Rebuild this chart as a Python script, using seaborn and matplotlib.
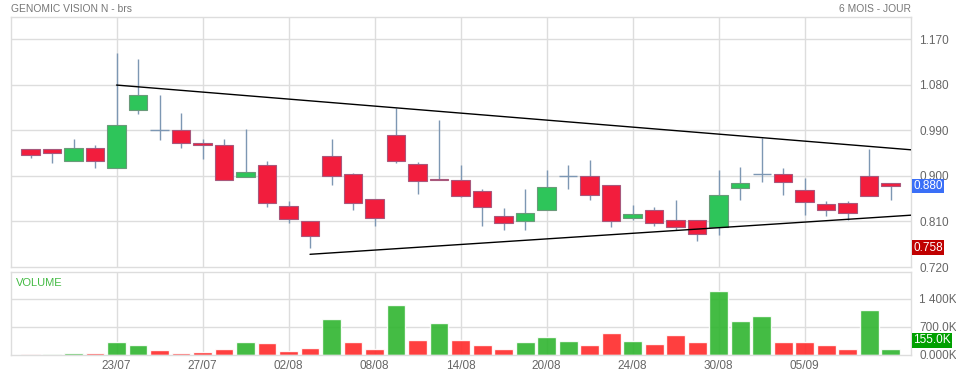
import numpy as np
import pandas as pd
import matplotlib
matplotlib.use("Agg")
import matplotlib.pyplot as plt
import matplotlib.transforms as mtransforms
import seaborn as sns

# daily OHLC (41 sessions)
opens = [0.954, 0.954, 0.929, 0.956, 0.916, 1.030, 0.991, 0.991, 0.965, 0.962,
         0.898, 0.922, 0.840, 0.810, 0.940, 0.903, 0.855, 0.981, 0.924, 0.894,
         0.891, 0.871, 0.820, 0.810, 0.832, 0.900, 0.900, 0.883, 0.817, 0.832,
         0.813, 0.813, 0.799, 0.876, 0.904, 0.903, 0.873, 0.844, 0.846, 0.900,
         0.885]
highs = [0.954, 0.954, 0.972, 0.962, 1.142, 1.131, 1.060, 1.024, 0.972, 0.972,
         0.992, 0.930, 0.850, 0.810, 0.972, 0.905, 0.855, 1.034, 0.927, 1.011,
         0.921, 0.875, 0.836, 0.875, 0.911, 0.921, 0.931, 0.883, 0.842, 0.839,
         0.852, 0.813, 0.912, 0.917, 0.975, 0.916, 0.895, 0.850, 0.851, 0.954,
         0.885]
lows = [0.935, 0.925, 0.929, 0.916, 0.916, 1.022, 0.970, 0.955, 0.934, 0.891,
        0.898, 0.839, 0.806, 0.758, 0.882, 0.833, 0.801, 0.925, 0.865, 0.891,
        0.859, 0.801, 0.793, 0.793, 0.832, 0.874, 0.852, 0.799, 0.813, 0.801,
        0.793, 0.772, 0.784, 0.852, 0.888, 0.862, 0.823, 0.820, 0.813, 0.861,
        0.852]
closes = [0.942, 0.946, 0.956, 0.929, 1.001, 1.060, 0.991, 0.965, 0.962, 0.891,
          0.907, 0.847, 0.815, 0.781, 0.900, 0.846, 0.816, 0.930, 0.889, 0.891,
          0.861, 0.839, 0.806, 0.826, 0.879, 0.900, 0.863, 0.810, 0.824, 0.806,
          0.800, 0.786, 0.863, 0.885, 0.904, 0.888, 0.849, 0.832, 0.826, 0.861,
          0.880]
volumes = [30e3, 25e3, 50e3, 40e3, 317e3, 242e3, 125e3, 50e3, 67e3, 142e3,
           317e3, 283e3, 92e3, 167e3, 883e3, 325e3, 142e3, 1242e3, 367e3, 783e3,
           367e3, 242e3, 133e3, 317e3, 450e3, 342e3, 242e3, 550e3, 342e3, 267e3,
           492e3, 317e3, 1592e3, 842e3, 958e3, 317e3, 325e3, 242e3, 142e3, 1117e3,
           155e3]

date_ticks = [4, 8, 12, 16, 20, 24, 28, 32, 36]
date_labels = ["23/07", "27/07", "02/08", "08/08", "14/08", "20/08", "24/08", "30/08", "05/09"]

price_ticks = [0.720, 0.810, 0.900, 0.990, 1.080, 1.170]
vol_ticks = [0, 700e3, 1400e3]
vol_labels = ["0.000K", "700.0K", "1 400K"]

# trend lines (start/end in session index and price)
upper_x = [4, 40.95]
upper_y = [1.0795, 0.9516]
lower_x = [13, 40.95]
lower_y = [0.7451, 0.8224]

last_close = 0.880
period_low = 0.758

GREEN = "#2ec55a"
RED = "#f21d3d"
WICK = "#7d97b3"
GRID = "#dddddd"
TXT = "#666666"

df = pd.DataFrame({"open": opens, "high": highs, "low": lows,
                   "close": closes, "volume": volumes})
df["idx"] = np.arange(len(df))
df["up"] = df["close"] >= df["open"]
prev = df["close"].shift(1)
df["vol_dir"] = np.where(prev.isna(), np.where(df["up"], "up", "down"),
                         np.where(df["close"] >= prev, "up", "down"))

sns.set_theme(style="white")
plt.rcParams["font.family"] = ["Liberation Sans", "DejaVu Sans"]

W, H = 956, 375
fig = plt.figure(figsize=(W / 100, H / 100), dpi=100)
L, R = 11, 911
ax = fig.add_axes([L / W, (H - 267) / H, (R - L) / W, (267 - 17) / H])
axv = fig.add_axes([L / W, (H - 354.7) / H, (R - L) / W, (354.7 - 271.7) / H])

xlim = (-0.907, 40.95)

# --- price panel ---
for a in (ax, axv):
    for s in a.spines.values():
        s.set_color(GRID)
        s.set_linewidth(1)
    a.set_axisbelow(True)

ax.set_xlim(*xlim)
ax.set_ylim(0.7215, 1.214)
for t in date_ticks:
    ax.axvline(t, color=GRID, lw=1, zorder=0)
for p in price_ticks[1:]:
    ax.axhline(p, color=GRID, lw=1, zorder=0)

ax.vlines(df["idx"], df["low"], df["high"], color=WICK, lw=1, zorder=2)
body_lo = np.minimum(df["open"], df["close"])
body_h = (df["close"] - df["open"]).abs()
doji = body_h < 0.0005
cols = np.where(df["up"], GREEN, RED)
edges = np.where(df["up"], "#6a9a7a", "#a8587c")
real = ~doji
ax.bar(df["idx"][real], np.maximum(body_h[real], 0.003), bottom=body_lo[real], width=0.85,
       color=cols[real], edgecolor=edges[real], linewidth=0.8, zorder=3)
ax.hlines(df["close"][doji], df["idx"][doji] - 0.42, df["idx"][doji] + 0.42,
          color=WICK, lw=1, zorder=3)

ax.plot(upper_x, upper_y, color="black", lw=1, zorder=4)
ax.plot(lower_x, lower_y, color="black", lw=1, zorder=4)

ax.yaxis.tick_right()
ax.set_yticks(price_ticks)
ax.set_yticklabels([f"{p:.3f}" for p in price_ticks])
ax.tick_params(axis="y", length=0, pad=6, labelsize=8.5, labelcolor=TXT)
ax.set_xticks([])

for val, bg in [(last_close, "#3a6ff7"), (period_low, "#c00000")]:
    ax.text(1.0025, val, f"{val:.3f}", transform=ax.get_yaxis_transform(),
            ha="left", va="center", color="white", fontsize=8.5,
            bbox=dict(boxstyle="square,pad=0.12", fc=bg, ec="none"),
            clip_on=False, zorder=6)

ax.text(0, 1.034, "GENOMIC VISION N - brs", transform=ax.transAxes,
        ha="left", va="center", color="#777777", fontsize=7.4)
ax.text(1, 1.034, "6 MOIS - JOUR", transform=ax.transAxes,
        ha="right", va="center", color="#777777", fontsize=7.4)

# --- volume panel ---
sns.barplot(data=df, x="idx", y="volume", hue="vol_dir",
            palette={"up": "#2fb52f", "down": "#ff2a2a"}, dodge=False,
            width=0.88, alpha=0.9, legend=False, saturation=1, ax=axv, zorder=2)
axv.set_xlim(*xlim)
axv.set_ylim(0, 2075e3)
for t in date_ticks:
    axv.axvline(t, color=GRID, lw=1, zorder=0)
for v in vol_ticks[1:]:
    axv.axhline(v, color=GRID, lw=1, zorder=0)
axv.set_xticks(date_ticks)
axv.set_xticklabels(date_labels)
axv.set_xlabel("")
axv.set_ylabel("")
axv.tick_params(axis="x", length=0, pad=4, labelsize=8.5, labelcolor=TXT)
axv.yaxis.tick_right()
axv.set_yticks(vol_ticks)
axv.set_yticklabels(vol_labels)
axv.tick_params(axis="y", length=0, pad=6, labelsize=8.5, labelcolor=TXT)
axv.text(0.006, 0.93, "VOLUME", transform=axv.transAxes, ha="left", va="top",
         color="#44bb44", fontsize=8)
off = mtransforms.offset_copy(axv.get_yaxis_transform(), fig=fig, y=6, units="points")
axv.text(1.0025, volumes[-1], f"{volumes[-1] / 1000:.1f}K", transform=off,
         ha="left", va="center", color="white", fontsize=8.5,
         bbox=dict(boxstyle="square,pad=0.12", fc="#00a000", ec="none"),
         clip_on=False, zorder=6)

fig.savefig("out.png", dpi=100, facecolor="white")
